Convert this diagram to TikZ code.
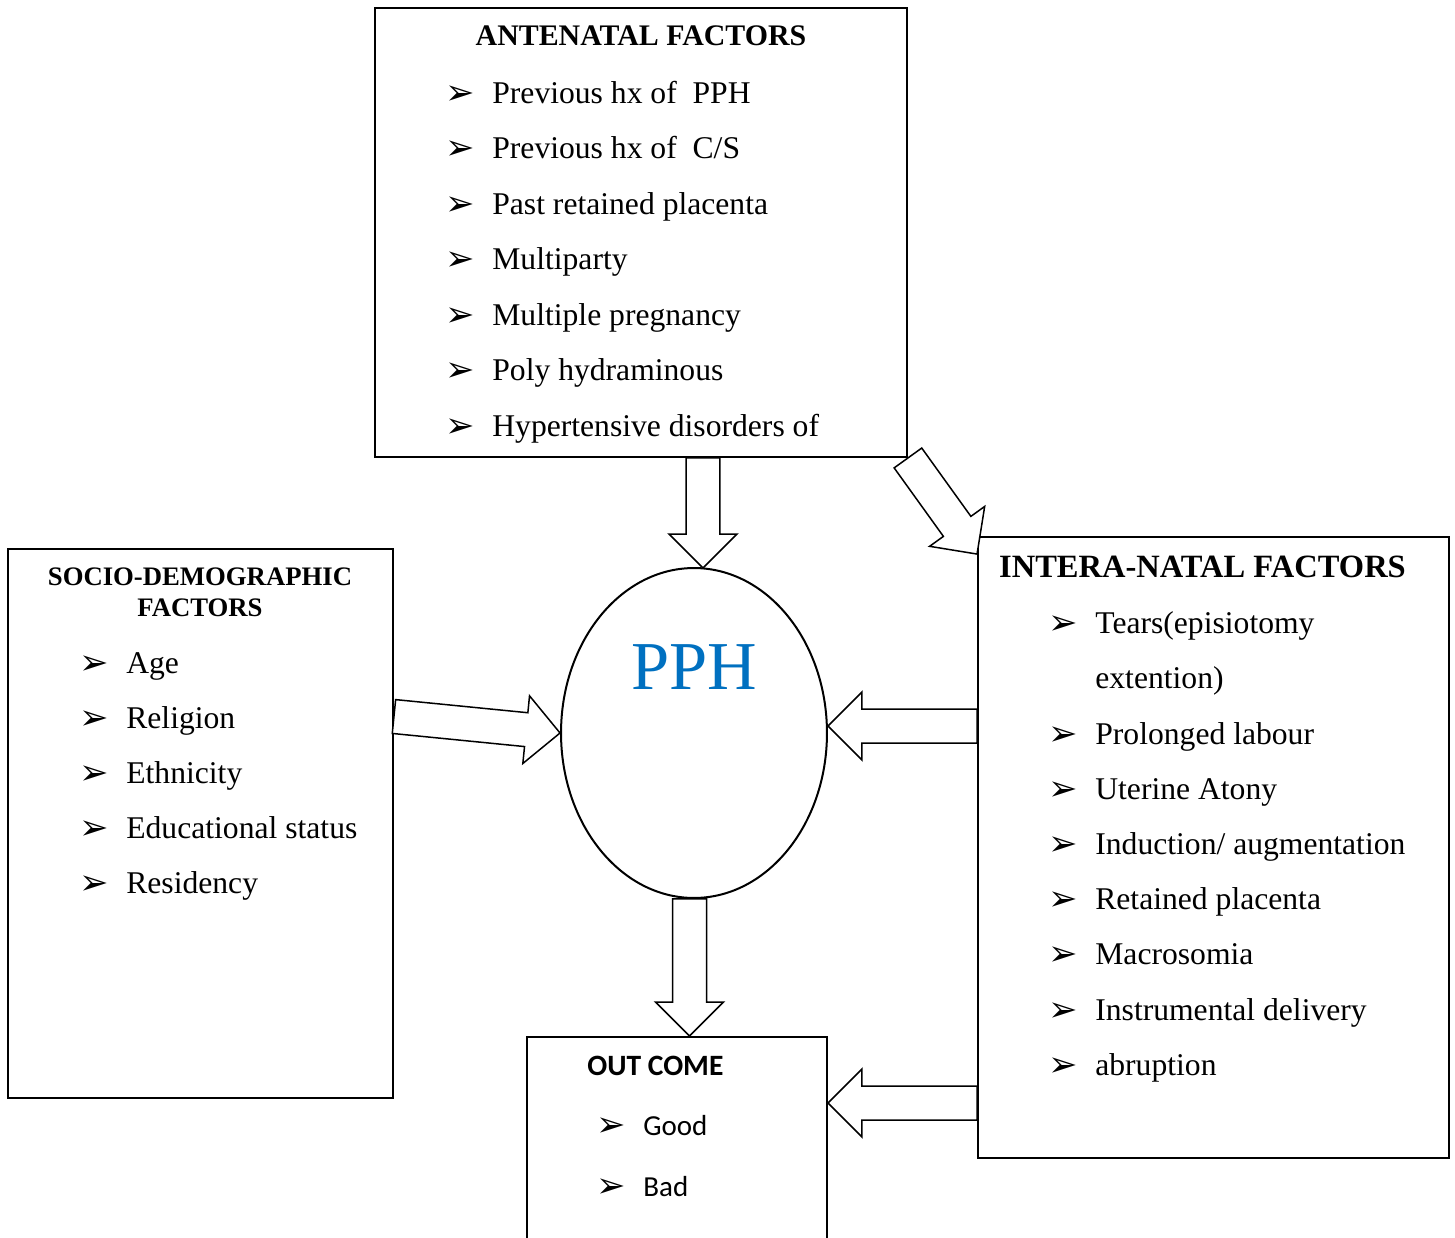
\documentclass[tikz,border=0pt]{standalone}
\usepackage{fontspec}
\setmainfont{Liberation Serif}
\newfontfamily\calfont{Carlito}
\newfontfamily\symfont{DejaVu Sans}
\usetikzlibrary{shapes.geometric,calc}

\definecolor{pphblue}{RGB}{0,112,192}

% arrow bullet as in the word list
\newcommand{\bul}{{\symfont\fontsize{20}{20}\selectfont ➢}}

% fat block arrow from #1 to #2
\def\sw{0.34cm}
\def\hw{0.68cm}
\def\hl{0.68cm}
\newcommand{\fatarrow}[2]{%
  \draw[fat] let \p1=(#1), \p2=(#2),
      \n1={atan2(\y2-\y1,\x2-\x1)}, \n2={veclen(\x2-\x1,\y2-\y1)} in
    ($(\p1)+(\n1+90:\sw)$) -- ++(\n1:\n2-\hl) -- ++(\n1+90:\hw-\sw) -- (\p2)
    -- ($(\p2)+(\n1+180:\hl)+(\n1-90:\hw)$) -- ++(\n1+90:\hw-\sw)
    -- ($(\p1)+(\n1-90:\sw)$) -- cycle;}

\tikzset{
  box/.style={draw, line width=0.04cm, rectangle, inner sep=0pt},
  head/.style={font=\fontsize{17}{20}\selectfont\bfseries, inner sep=0pt},
  item/.style={anchor=base west, inner sep=0pt, font=\fontsize{18}{21}\selectfont},
  bullet/.style={anchor=base west, inner sep=0pt},
  fat/.style={draw, fill=white, line width=0.03cm, line join=miter},
}

\begin{document}
\begin{tikzpicture}[x=0.02cm,y=-0.02cm]
\clip (0,0) rectangle (1455,1238);

% boxes
\node[box, minimum width=10.64cm, minimum height=8.98cm] (ante) at (641,232.5) {};
\node[box, minimum width=7.7cm, minimum height=10.98cm] (socio) at (200.5,823.5) {};
\node[box, minimum width=9.42cm, minimum height=12.42cm] (intera) at (1213.5,847.5) {};
\node[box, minimum width=6cm, minimum height=4.46cm] (outcome) at (677,1148.5) {};
\node[draw, line width=0.04cm, ellipse, inner sep=0pt,
      minimum width=5.32cm, minimum height=6.6cm] (pph) at (694,733) {};

% titles
\node[head] (ante-t) at (641,36) {ANTENATAL FACTORS};
\node[head, align=center, font=\fontsize{15.2}{17.6}\selectfont\bfseries] (socio-t) at (200,592) {SOCIO-DEMOGRAPHIC\\FACTORS};
\node[head, font=\fontsize{18.5}{21}\selectfont\bfseries] (intera-t) at (1202.5,567) {INTERA-NATAL FACTORS};
\node[head, anchor=west, font=\calfont\fontsize{16.8}{19}\selectfont\bfseries] (outcome-t) at (587,1066) {OUT COME};
\node[text=pphblue, font=\fontsize{39}{44}\selectfont, inner sep=0pt] (pph-t) at (694,667) {PPH};

% antenatal list
\foreach \txt [count=\i] in {Previous hx of\ \ PPH, Previous hx of\ \ C/S,
    Past retained placenta, Multiparty, Multiple pregnancy,
    Poly hydraminous, Hypertensive disorders of} {
  \node[bullet] (ante-b\i) at (445,{104+55.5*(\i-1)}) {\bul};
  \node[item] (ante-\i) at (492,{103+55.5*(\i-1)}) {\txt};
}

% socio-demographic list
\foreach \txt [count=\i] in {Age, Religion, Ethnicity, Educational status, Residency} {
  \node[bullet] (socio-b\i) at (79,{674+55.2*(\i-1)}) {\bul};
  \node[item] (socio-\i) at (126,{673+55.2*(\i-1)}) {\txt};
}

% intera-natal list
\node[bullet] (intera-b0) at (1048,634) {\bul};
\node[item] (intera-0) at (1095,633) {Tears(episiotomy};
\node[item] (intera-0a) at (1095,688) {extention)};
\foreach \txt [count=\i] in {Prolonged labour, Uterine Atony, Induction/ augmentation,
    Retained placenta, Macrosomia, Instrumental delivery, abruption} {
  \node[bullet] (intera-b\i) at (1048,{745+55.2*(\i-1)}) {\bul};
  \node[item] (intera-\i) at (1095,{744+55.2*(\i-1)}) {\txt};
}

% outcome list
\node[bullet] (outcome-b1) at (596,1136) {\bul};
\node[item, font=\calfont\fontsize{16.5}{19}\selectfont] (outcome-1) at (643,1135) {Good};
\node[bullet] (outcome-b2) at (596,1197) {\bul};
\node[item, font=\calfont\fontsize{16.5}{19}\selectfont] (outcome-2) at (643,1196) {Bad};

% arrows
\coordinate (ante-out) at ([xshift=0.18cm]pph.north |- ante.south);
\coordinate (pph-in) at ([xshift=0.18cm,yshift=-0.02cm]pph.north);
\coordinate (socio-out) at ([yshift=2.14cm]socio.east);
\coordinate (intera-in) at ([yshift=-0.36cm]intera.north west);
\coordinate (pph-in2) at ([yshift=0.14cm]pph.east);
\coordinate (outcome-in) at ([yshift=0.91cm]outcome.east);
\coordinate (pph-out) at ([xshift=-0.09cm]pph.south);
\fatarrow{ante-out}{pph-in}
\fatarrow{ante.south east}{intera-in}
\fatarrow{socio-out}{pph.west}
\fatarrow{intera.west |- pph-in2}{pph-in2}
\fatarrow{pph-out}{pph-out |- outcome.north}
\fatarrow{intera.west |- outcome-in}{outcome-in}
\end{tikzpicture}
\end{document}
